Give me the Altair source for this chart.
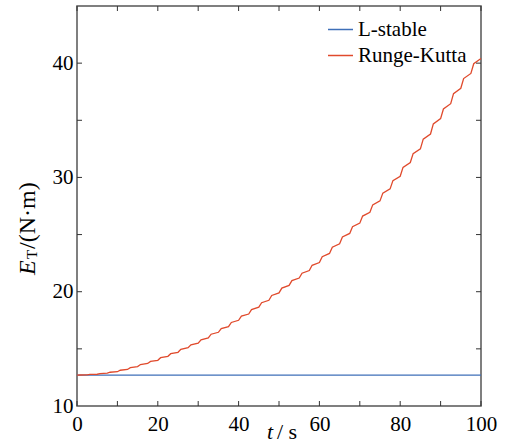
import altair as alt
import pandas as pd

# ---- data ----
series_names = ["L-stable", "Runge-Kutta"]
colors = ["#3e6fb8", "#e04a2c"]

t_ls = [0, 100]
e_ls = [12.7, 12.7]

t_rk = [0, 0.7, 2.5, 3.2, 5, 5.7, 7.5, 8.2, 10, 10.7, 12.5, 13.2, 15, 15.7, 17.5, 18.2,
        20, 20.7, 22.5, 23.2, 25, 25.7, 27.5, 28.2, 30, 30.7, 32.5, 33.2, 35, 35.7,
        37.5, 38.2, 40, 40.7, 42.5, 43.2, 45, 45.7, 47.5, 48.2, 50, 50.7, 52.5, 53.2,
        55, 55.7, 57.5, 58.2, 60, 60.7, 62.5, 63.2, 65, 65.7, 67.5, 68.2, 70, 70.7,
        72.5, 73.2, 75, 75.7, 77.5, 78.2, 80, 80.7, 82.5, 83.2, 85, 85.7, 87.5, 88.2,
        90, 90.7, 92.5, 93.2, 95, 95.7, 97.5, 98.2, 100]
e_rk = [12.7, 12.713, 12.72, 12.76, 12.78, 12.84, 12.87, 12.955, 13.0, 13.13, 13.2,
        13.36, 13.45, 13.63, 13.72, 13.9, 14.0, 14.23, 14.35, 14.58, 14.7, 14.96, 15.1,
        15.36, 15.5, 15.79, 15.95, 16.28, 16.45, 16.78, 16.95, 17.31, 17.5, 17.86, 18.05,
        18.44, 18.65, 19.04, 19.25, 19.67, 19.9, 20.32, 20.55, 20.97, 21.2, 21.62, 21.85,
        22.31, 22.55, 23.07, 23.35, 23.9, 24.2, 24.79, 25.1, 25.69, 26.0, 26.62, 26.95,
        27.6, 27.95, 28.63, 29.0, 29.72, 30.1, 30.88, 31.3, 32.08, 32.5, 33.35, 33.8,
        34.68, 35.15, 35.99, 36.45, 37.33, 37.8, 38.65, 39.1, 39.95, 40.4]

x_tick_vals = [0, 10, 20, 30, 40, 50, 60, 70, 80, 90, 100]
y_tick_vals = [15, 20, 25, 30, 35, 40]
x_label_vals = [0, 20, 40, 60, 80, 100]
y_label_vals = [10, 20, 30, 40]

rows = [{"t": t, "e": e, "series": series_names[0]} for t, e in zip(t_ls, e_ls)]
rows += [{"t": t, "e": e, "series": series_names[1]} for t, e in zip(t_rk, e_rk)]
df = pd.DataFrame(rows)

W, H = 404, 400
FONT = "Liberation Serif"
xs = alt.Scale(domain=[0, 100], nice=False, zero=False)
ys = alt.Scale(domain=[10, 45], nice=False, zero=False)
xaxis = alt.Axis(values=x_label_vals, tickSize=0, domain=False, grid=False, title=None,
                 labelFont=FONT, labelFontSize=21, labelColor="black",
                 labelPadding=7, labelFlush=False)
yaxis = alt.Axis(values=y_label_vals, tickSize=0, domain=False, grid=False, title=None,
                 labelFont=FONT, labelFontSize=21, labelColor="black",
                 labelPadding=4, labelFlush=False)

lines = alt.Chart(df).mark_line(strokeWidth=1.3).encode(
    x=alt.X("t:Q", scale=xs, axis=xaxis),
    y=alt.Y("e:Q", scale=ys, axis=yaxis),
    color=alt.Color("series:N", scale=alt.Scale(domain=series_names, range=colors),
                    legend=alt.Legend(orient="none", legendX=250, legendY=10, title=None,
                                      symbolType="stroke", symbolSize=625,
                                      symbolStrokeWidth=1.5, labelFont=FONT,
                                      labelFontSize=21, labelColor="black",
                                      labelOffset=4, rowPadding=2, padding=0)),
)

xt = pd.DataFrame({"v": x_tick_vals})
yt = pd.DataFrame({"v": y_tick_vals})
tick_col = "#333333"
xb = alt.Chart(xt).mark_rule(color=tick_col, strokeWidth=1).encode(
    x=alt.X("v:Q", scale=xs, axis=xaxis), y=alt.value(H), y2=alt.value(H - 5))
xtop = alt.Chart(xt).mark_rule(color=tick_col, strokeWidth=1).encode(
    x=alt.X("v:Q", scale=xs, axis=xaxis), y=alt.value(0), y2=alt.value(5))
yl = alt.Chart(yt).mark_rule(color=tick_col, strokeWidth=1).encode(
    y=alt.Y("v:Q", scale=ys, axis=yaxis), x=alt.value(0), x2=alt.value(5))
yr = alt.Chart(yt).mark_rule(color=tick_col, strokeWidth=1).encode(
    y=alt.Y("v:Q", scale=ys, axis=yaxis), x=alt.value(W - 5), x2=alt.value(W))

one = pd.DataFrame({"a": [0]})
def txt(s, x, y, size, italic=False, angle=0, align="left"):
    kw = dict(text=s, font=FONT, fontSize=size, color="black", align=align,
              baseline="alphabetic")
    if italic:
        kw["fontStyle"] = "italic"
    if angle:
        kw["angle"] = angle
    return alt.Chart(one).mark_text(**kw).encode(x=alt.value(x), y=alt.value(y))

titles = [
    txt("t", 193, 433, 22, italic=True, align="center"),
    txt("/ s", 200, 433, 22),
    txt("E", -42, 269, 24, italic=True, angle=270),
    txt("T", -40, 253, 15, angle=270),
    txt("/(N\u00b7m)", -42, 243, 24, angle=270),
]

chart = alt.layer(lines, xb, xtop, yl, yr, *titles).properties(
    width=W, height=H, autosize=alt.AutoSizeParams(type="none"),
    padding={"left": 77, "top": 6, "right": 24, "bottom": 42},
).configure_view(stroke="#555555", strokeWidth=1.5)

chart.save("out.html", embed_options={"renderer": "svg", "actions": False})
